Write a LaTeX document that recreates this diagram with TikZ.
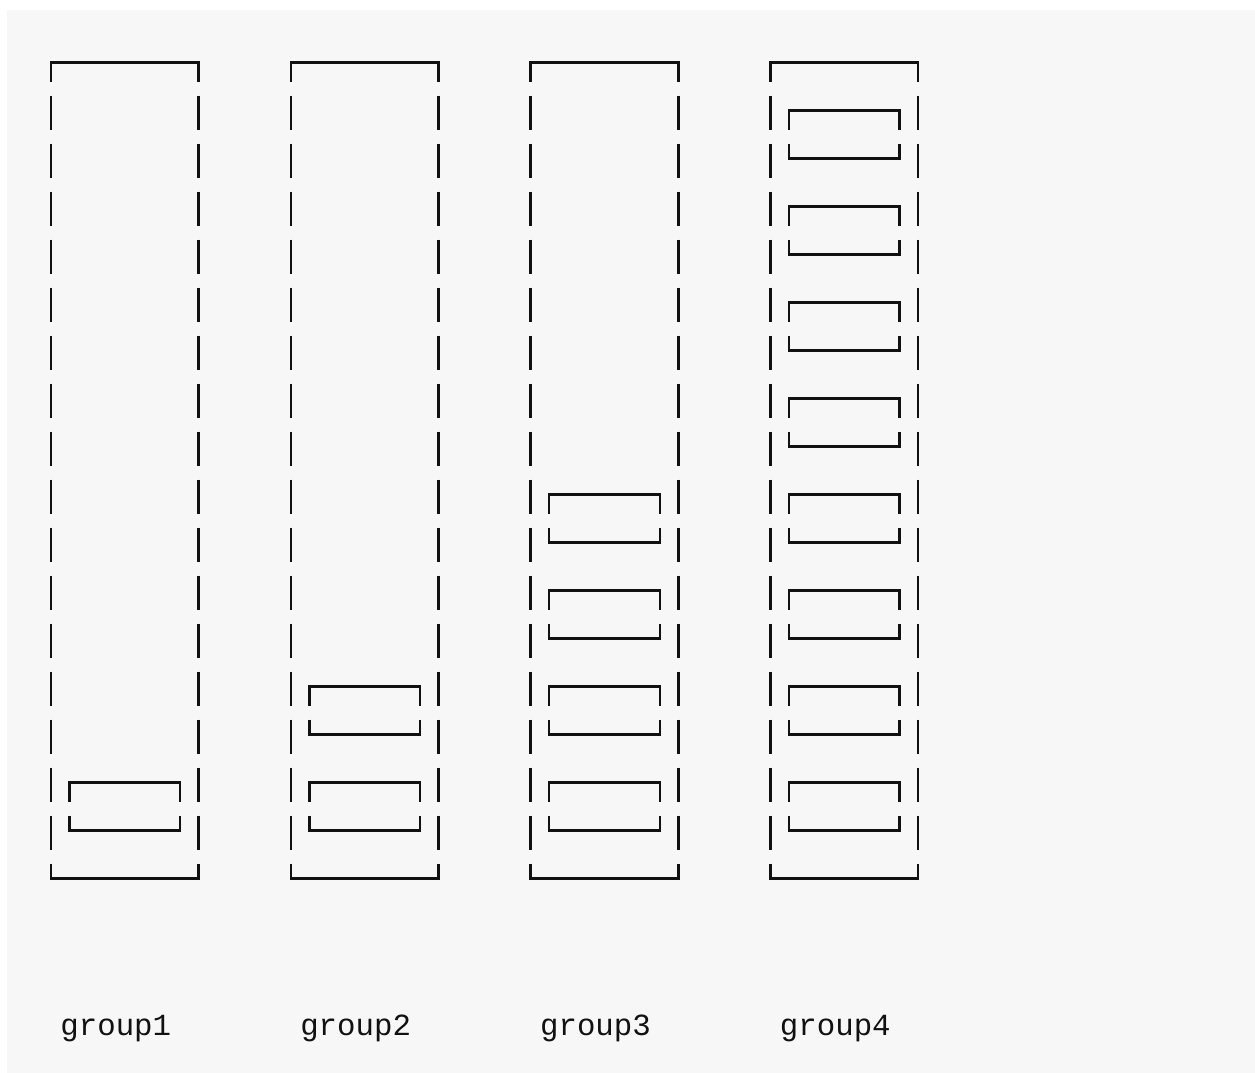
\documentclass[tikz,border=0pt]{standalone}
\usepackage{fontspec}
\setmonofont{Liberation Mono}
\definecolor{bggray}{HTML}{F7F7F7}
\definecolor{inkc}{HTML}{111111}
\tikzset{
  ink/.style={draw=inkc, line width=2.6pt, line cap=butt, line join=miter},
  lbl/.style={inner sep=0pt, anchor=base west, text=inkc, font=\fontsize{30.75}{36}\selectfont\ttfamily}
}
\begin{document}
\begin{tikzpicture}[x=1pt,y=-1pt]
\useasboundingbox (0,0) rectangle (1255,1073);
\fill[white] (0,0) rectangle (1255,1073);
\fill[bggray] (7,10) rectangle (1255,1073);
\foreach \g/\n in {0/1,1/2,2/4,3/8}{
  \pgfmathsetmacro\xl{51+13*\g*18.45}
  \pgfmathsetmacro\xr{\xl+8*18.45}
  \pgfmathsetmacro\xa{\xl+18.45}
  \pgfmathsetmacro\xb{\xl+7*18.45}
  \pgfmathtruncatemacro\k{\g+1}
  % outer box corners
  \draw[ink] (\xl,81.6) -- (\xl,62.6) -- (\xr,62.6) -- (\xr,81.6);
  \draw[ink] (\xl,863.6) -- (\xl,878.6) -- (\xr,878.6) -- (\xr,863.6);
  % outer side segments
  \foreach \r in {1,...,16}{
    \pgfmathsetmacro\yc{62.6+48*\r}
    \draw[ink] (\xl,\yc-15) -- (\xl,\yc+19);
    \draw[ink] (\xr,\yc-15) -- (\xr,\yc+19);
  }
  % inner boxes
  \foreach \i in {1,...,\n}{
    \pgfmathsetmacro\yt{62.6+48*(17-2*\n+2*(\i-1))}
    \pgfmathsetmacro\yb{\yt+48}
    \draw[ink] (\xa,\yt+19) -- (\xa,\yt) -- (\xb,\yt) -- (\xb,\yt+19);
    \draw[ink] (\xa,\yb-15) -- (\xa,\yb) -- (\xb,\yb) -- (\xb,\yb-15);
  }
  \node[lbl] (label\k) at (\xl+9.225,1035) {group\k};
}
\end{tikzpicture}
\end{document}
